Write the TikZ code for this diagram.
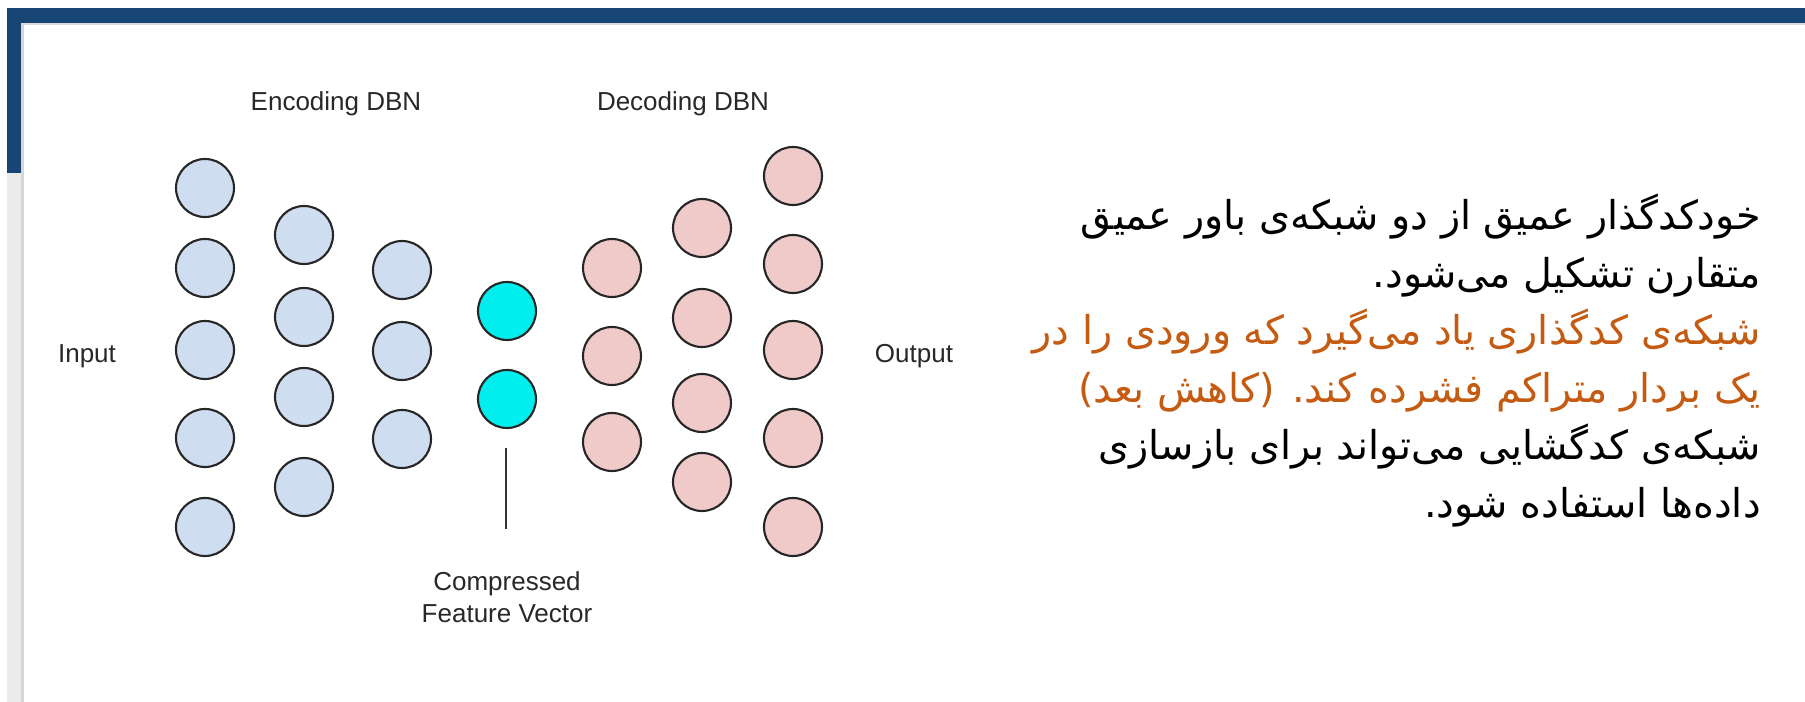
\documentclass[tikz,border=0pt]{standalone}
\usepackage{fontspec}
\setmainfont{Liberation Sans}
\newfontfamily\farsifont[Script=Arabic]{DejaVu Sans}
\TeXXeTstate=1

\definecolor{barblue}{RGB}{23,70,117}
\definecolor{encfill}{RGB}{206,222,240}
\definecolor{decfill}{RGB}{240,201,201}
\definecolor{codefill}{RGB}{0,238,238}
\definecolor{txtorange}{RGB}{197,90,17}
\definecolor{lblgray}{RGB}{40,40,40}

\tikzset{
  unit/.style={circle, draw=black!85, line width=1.2pt, minimum size=1.16cm, inner sep=0pt},
  encunit/.style={unit, fill=encfill},
  decunit/.style={unit, fill=decfill},
  codeunit/.style={unit, fill=codefill},
  lbl/.style={font=\fontsize{14.8}{18.2}\selectfont, text=lblgray},
}

\begin{document}
\begin{tikzpicture}[x=0.02cm, y=-0.02cm]
\path [use as bounding box, fill=white] (0,0) rectangle (1805,702);
% frame of the slide
\fill [barblue] (7,8) rectangle (1805,23);
\fill [barblue] (7,8) rectangle (22,173);
\fill [black!8] (7,173) rectangle (24,702);
\fill [black!16] (21,23) rectangle (24,702);
\fill [black!14] (22,23) rectangle (1805,25);

% encoding DBN
\foreach \y [count=\i] in {188,268,350,438,527}
  \node [encunit] (enc1-\i) at (205,\y) {};
\foreach \y [count=\i] in {235,317,397,487}
  \node [encunit] (enc2-\i) at (304,\y) {};
\foreach \y [count=\i] in {270,351,439}
  \node [encunit] (enc3-\i) at (402,\y) {};
% code layer
\foreach \y [count=\i] in {311,399}
  \node [codeunit] (code-\i) at (507,\y) {};
% decoding DBN
\foreach \y [count=\i] in {268,356,442}
  \node [decunit] (dec1-\i) at (612,\y) {};
\foreach \y [count=\i] in {228,318,403,482}
  \node [decunit] (dec2-\i) at (702,\y) {};
\foreach \y [count=\i] in {176,264,350,438,527}
  \node [decunit] (dec3-\i) at (793,\y) {};

\node [lbl] (enclbl) at (336,104) {Encoding DBN};
\node [lbl] (declbl) at (683,104) {Decoding DBN};
\node [lbl] (input) at (87,356) {Input};
\node [lbl] (output) at (914,356) {Output};
\node [lbl, align=center] (cfv) at (507,597) {Compressed\\Feature Vector};
\coordinate (tick-top) at (506,448);
\coordinate (tick-bot) at (506,529);
\draw [line width=1.1pt, black!80] (tick-top) -- (tick-bot);

\node [anchor=north east, align=right, inner sep=0pt,
       font=\farsifont\fontsize{22.6}{32.7}\selectfont] (farsi) at (1761,194)
  {\beginR خودکدگذار عمیق از دو شبکه‌ی باور عمیق\endR\\
   \beginR متقارن تشکیل می‌شود.\endR\\
   \textcolor{txtorange}{\beginR شبکه‌ی کدگذاری یاد می‌گیرد که ورودی را در\endR}\\
   \textcolor{txtorange}{\beginR یک بردار متراکم فشرده کند. (کاهش بعد)\endR}\\
   \beginR شبکه‌ی کدگشایی می‌تواند برای بازسازی\endR\\
   \beginR داده‌ها استفاده شود.\endR};
\end{tikzpicture}
\end{document}
